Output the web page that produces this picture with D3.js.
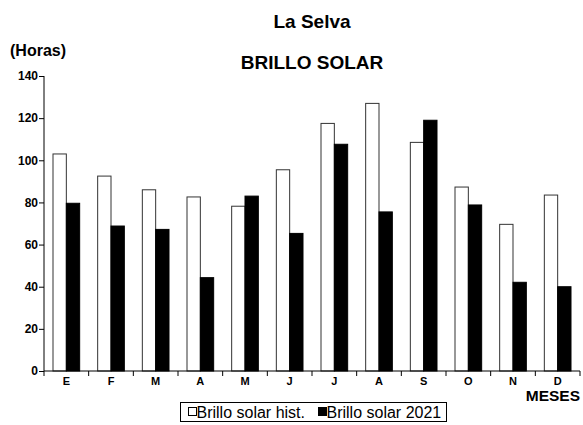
<!DOCTYPE html>
<html>
<head>
<meta charset="utf-8">
<script src="https://cdn.jsdelivr.net/npm/d3@7"></script>
<style>
  body { margin: 0; background: #fff; }
  text { font-family: "Liberation Sans", Arial, sans-serif; }
</style>
</head>
<body>
<div id="chart"></div>
<script>
var months = ["E", "F", "M", "A", "M", "J", "J", "A", "S", "O", "N", "D"];
var histValues = [103, 92.5, 86, 82.6, 78.2, 95.5, 117.5, 127, 108.5, 87.3, 69.6, 83.5];
var values2021 = [79.6, 68.8, 67.2, 44.3, 83, 65.3, 107.6, 75.5, 119, 78.8, 42.1, 40];
var yTicks = [0, 20, 40, 60, 80, 100, 120, 140];
var seriesNames = ["Brillo solar hist.", "Brillo solar 2021"];

var W = 583, H = 425,
    margin = {left: 44, right: 3, top: 76, bottom: 54},
    width = W - margin.left - margin.right,
    height = H - margin.top - margin.bottom;

var svg = d3.select("#chart").append("svg")
    .attr("width", W)
    .attr("height", H);

var x = d3.scaleBand().domain(d3.range(months.length)).range([0, width]).paddingInner(0).paddingOuter(0);
var xs = d3.scaleBand().domain([0, 1]).range([9, x.bandwidth() - 9]);
var y = d3.scaleLinear().domain([0, 140]).range([height, 0]);

var g = svg.append("g")
    .attr("transform", "translate(" + margin.left + "," + margin.top + ")");

// bars
var groups = g.selectAll(".grp")
    .data(months.map(function (m, i) { return {i: i, v: [histValues[i], values2021[i]]}; }))
  .enter().append("g")
    .attr("class", "grp")
    .attr("transform", function (d) { return "translate(" + x(d.i) + ",0)"; });

groups.selectAll("rect")
    .data(function (d) { return d.v.map(function (v, k) { return {k: k, v: v}; }); })
  .enter().append("rect")
    .attr("x", function (d) { return xs(d.k); })
    .attr("width", xs.bandwidth())
    .attr("y", function (d) { return y(d.v); })
    .attr("height", function (d) { return height - y(d.v); })
    .attr("fill", function (d) { return d.k === 0 ? "#fff" : "#000"; })
    .attr("stroke", function (d) { return d.k === 0 ? "#333" : "#000"; })
    .attr("stroke-width", 1);

// y axis
var yAxis = d3.axisLeft(y).tickValues(yTicks).tickSize(5).tickPadding(1).tickFormat(d3.format("d"));
var ya = g.append("g").call(yAxis);
ya.select(".domain").attr("d", "M0," + height + "V0");
ya.selectAll("text").style("font-size", "12px").style("font-weight", "bold").attr("font-family", null);

// x axis: ticks between categories
var xa = g.append("g").attr("transform", "translate(0," + height + ")");
xa.append("line").attr("x1", 0).attr("x2", width).attr("stroke", "#000");
xa.selectAll(".tk")
    .data(d3.range(months.length + 1))
  .enter().append("line")
    .attr("x1", function (i) { return i * x.step(); })
    .attr("x2", function (i) { return i * x.step(); })
    .attr("y1", 0).attr("y2", 5)
    .attr("stroke", "#000");
xa.selectAll(".lbl")
    .data(months)
  .enter().append("text")
    .attr("x", function (d, i) { return x(i) + x.bandwidth() / 2; })
    .attr("y", 14)
    .attr("text-anchor", "middle")
    .style("font-size", "11px")
    .style("font-weight", "bold")
    .text(function (d) { return d; });

// titles
svg.append("text").attr("x", 312).attr("y", 28).attr("text-anchor", "middle")
    .style("font-size", "19px").style("font-weight", "bold").text("La Selva");
svg.append("text").attr("x", 312).attr("y", 69).attr("text-anchor", "middle")
    .style("font-size", "19px").style("font-weight", "bold").text("BRILLO SOLAR");
svg.append("text").attr("x", 10).attr("y", 56)
    .style("font-size", "16px").style("font-weight", "bold").text("(Horas)");
svg.append("text").attr("x", 580).attr("y", 401).attr("text-anchor", "end")
    .style("font-size", "15.5px").style("font-weight", "bold").text("MESES");

// legend
var lg = svg.append("g").attr("transform", "translate(180.5,402.5)");
lg.append("rect").attr("width", 266).attr("height", 19)
    .attr("fill", "#fff").attr("stroke", "#000");
var items = [{x: 8, fill: "#fff"}, {x: 138, fill: "#000"}];
items.forEach(function (it, k) {
  lg.append("rect").attr("x", it.x).attr("y", 5).attr("width", 8).attr("height", 8)
    .attr("fill", it.fill).attr("stroke", "#000");
  lg.append("text").attr("x", it.x + 8).attr("y", 15)
    .style("font-size", "16px").text(seriesNames[k]);
});
</script>
</body>
</html>
